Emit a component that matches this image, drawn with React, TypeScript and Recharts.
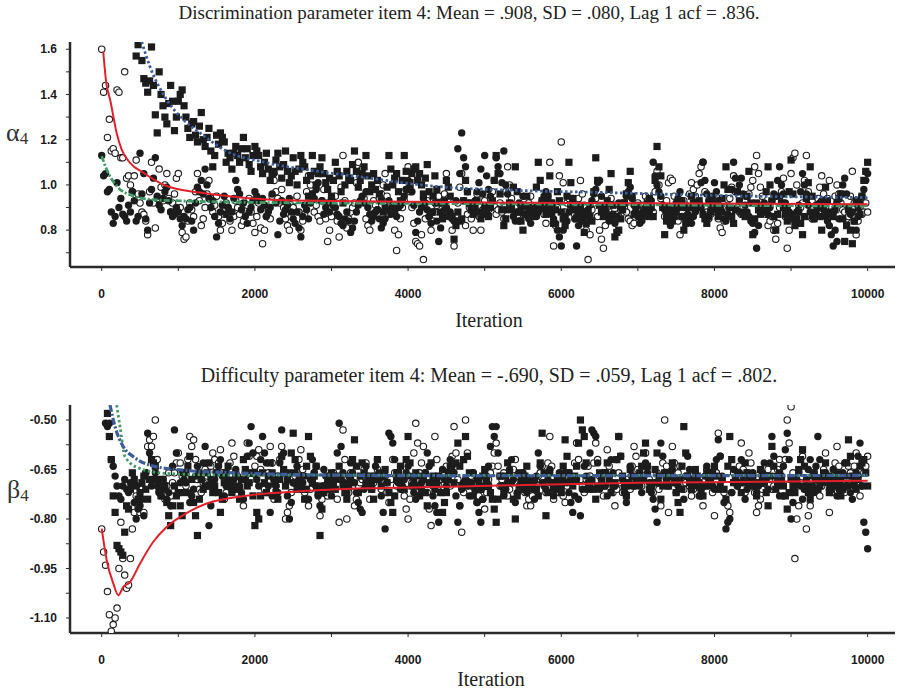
import React from 'react';
import { ComposedChart, Scatter, Line, XAxis, YAxis } from 'recharts';

// Sampling interval of the plotted draws: "main" draws sit at k*ITER_STEP, "mid" draws halfway between.
const ITER_STEP = 50;

const X_TICKS = [0, 1000, 2000, 3000, 4000, 5000, 6000, 7000, 8000, 9000, 10000];
const X_LABELED = [0, 2000, 4000, 6000, 8000, 10000];

const ALPHA_TICKS = [0.7, 0.8, 0.9, 1.0, 1.1, 1.2, 1.3, 1.4, 1.5, 1.6];
const ALPHA_LABELED = [0.8, 1.0, 1.2, 1.4, 1.6];
const BETA_TICKS = [-1.1, -1.025, -0.95, -0.875, -0.8, -0.725, -0.65, -0.575, -0.5];
const BETA_LABELED = [-1.1, -0.95, -0.8, -0.65, -0.5];

const ALPHA_TITLE = 'Discrimination parameter item 4: Mean = .908, SD = .080, Lag 1 acf = .836.';
const BETA_TITLE = 'Difficulty parameter item 4: Mean = -.690, SD = .059, Lag 1 acf = .802.';

// ---- alpha (discrimination), three chains ----
const alphaFilled = [
  1.13, 1.05, 0.98, 0.83, 1.01, 0.94, 0.86, 0.91, 0.97, 0.84, 1.14, 1.05, 0.80, 0.98, 1.12, 0.91, 0.94, 0.99, 0.88, 0.87,
  0.88, 0.82, 0.85, 0.90, 0.80, 0.99, 1.02, 1.07, 0.94, 0.93, 0.77, 0.88, 0.95, 0.90, 0.88, 1.02, 0.96, 0.92, 0.83, 0.90,
  0.97, 0.93, 0.94, 0.86, 0.90, 1.05, 0.78, 0.93, 0.89, 0.94, 0.85, 0.88, 0.77, 0.91, 0.85, 0.96, 0.98, 1.05, 0.87, 0.92,
  0.94, 0.90, 0.86, 0.82, 0.88, 0.79, 0.84, 0.91, 0.95, 0.97, 0.87, 0.86, 0.89, 0.81, 0.85, 0.93, 0.90, 0.86, 0.91, 0.95,
  1.02, 0.97, 0.79, 0.88, 0.94, 0.89, 0.83, 0.92, 0.75, 0.86, 0.90, 0.88, 0.84, 1.16, 1.23, 1.08, 0.92, 0.88, 0.97, 1.07,
  1.13, 0.98, 0.93, 1.12, 1.05, 1.15, 0.96, 0.89, 0.84, 0.92, 0.95, 0.87, 0.83, 0.90, 0.88, 0.93, 0.97, 0.89, 0.85, 0.80,
  0.73, 0.86, 0.88, 0.94, 0.73, 0.91, 0.86, 0.89, 0.93, 0.98, 1.02, 0.90, 0.87, 0.85, 0.83, 0.92, 0.89, 0.95, 0.99, 0.91,
  0.86, 0.84, 0.90, 0.88, 1.10, 1.00, 0.95, 0.89, 0.84, 0.86, 0.92, 0.97, 0.90, 0.87, 0.83, 0.88, 0.92, 1.10, 0.96, 0.91,
  1.01, 0.93, 0.88, 0.84, 0.90, 1.10, 0.97, 1.03, 0.91, 0.86, 0.83, 0.72, 0.89, 0.92, 0.87, 0.93, 0.95, 1.08, 0.96, 0.90,
  0.87, 0.84, 0.91, 1.05, 0.96, 0.88, 0.85, 0.90, 0.93, 0.86, 0.82, 0.73, 0.75, 0.96, 1.03, 0.90, 0.88, 0.80, 0.92, 0.98,
  1.05,
];
const alphaFilledMid = [
  1.04, 0.97, 0.88, 0.86, 0.90, 0.87, 0.84, 0.88, 0.93, 0.86, 0.96, 0.85, 0.92, 1.03, 0.95, 0.89, 0.97, 0.93, 0.86, 0.90,
  0.85, 0.86, 0.89, 0.84, 0.92, 0.97, 0.96, 1.00, 0.90, 0.86, 0.83, 0.91, 0.87, 0.85, 0.94, 0.98, 0.89, 0.86, 0.88, 0.93,
  0.95, 0.89, 0.91, 0.88, 0.96, 0.92, 0.84, 0.87, 0.91, 0.88, 0.83, 0.81, 0.86, 0.89, 0.92, 0.94, 1.01, 0.93, 0.90, 0.88,
  0.91, 0.87, 0.83, 0.85, 0.84, 0.81, 0.88, 0.93, 0.92, 0.90, 0.84, 0.88, 0.85, 0.83, 0.89, 0.87, 0.88, 0.90, 0.93, 0.98,
  0.99, 0.91, 0.84, 0.90, 0.92, 0.86, 0.88, 0.84, 0.81, 0.89, 0.86, 0.85, 0.93, 1.05, 1.12, 0.97, 0.90, 0.93, 1.01, 0.96,
  1.04, 0.95, 1.02, 1.08, 1.01, 1.00, 0.92, 0.86, 0.88, 0.90, 0.91, 0.85, 0.87, 0.86, 0.91, 0.95, 0.92, 0.87, 0.83, 0.77,
  0.80, 0.84, 0.91, 0.85, 0.82, 0.88, 0.87, 0.91, 0.96, 1.01, 0.95, 0.88, 0.84, 0.87, 0.86, 0.90, 0.92, 0.97, 0.94, 0.88,
  0.83, 0.87, 0.86, 0.93, 1.04, 0.97, 0.91, 0.86, 0.82, 0.89, 0.94, 0.93, 0.86, 0.84, 0.86, 0.90, 1.01, 1.02, 0.93, 0.95,
  0.97, 0.90, 0.85, 0.87, 0.98, 1.03, 1.00, 0.96, 0.88, 0.84, 0.79, 0.82, 0.91, 0.88, 0.90, 0.96, 1.02, 1.00, 0.92, 0.88,
  0.85, 0.88, 0.97, 1.00, 0.91, 0.86, 0.88, 0.92, 0.89, 0.84, 0.78, 0.80, 0.85, 1.00, 0.96, 0.87, 0.84, 0.86, 0.95, 1.02,
];
const alphaOpen = [
  1.60, 1.44, 1.29, 1.16, 1.42, 1.12, 1.50, 1.04, 0.97, 1.11, 0.92, 0.87, 0.78, 1.10, 0.81, 1.07, 0.93, 1.05, 0.88, 0.96,
  1.05, 0.79, 0.77, 0.92, 0.86, 1.05, 0.82, 0.90, 1.02, 0.88, 0.95, 0.80, 0.87, 0.90, 0.80, 0.93, 0.87, 0.84, 0.91, 0.88,
  0.79, 0.92, 0.74, 0.86, 0.85, 1.02, 0.94, 0.98, 0.85, 0.80, 0.90, 0.95, 0.80, 0.87, 1.04, 0.96, 0.91, 0.84, 0.98, 0.75,
  0.86, 0.95, 0.77, 1.13, 0.81, 0.88, 0.92, 1.10, 1.07, 0.85, 0.80, 0.93, 0.89, 0.96, 1.05, 0.87, 0.91, 0.71, 0.85, 0.93,
  1.08, 0.90, 0.75, 0.73, 0.67, 0.93, 0.80, 0.88, 0.95, 0.87, 1.05, 0.86, 0.73, 0.92, 1.05, 0.82, 0.90, 0.80, 0.96, 0.80,
  0.93, 0.89, 0.97, 0.87, 0.92, 0.85, 1.08, 0.94, 0.90, 0.84, 0.91, 0.88, 0.95, 0.86, 0.89, 0.92, 0.83, 1.10, 0.73, 0.90,
  1.19, 0.88, 0.94, 0.91, 0.86, 1.02, 0.91, 0.67, 0.89, 0.94, 0.80, 0.72, 0.90, 0.94, 0.89, 0.86, 0.92, 0.88, 0.84, 0.83,
  0.92, 0.87, 0.95, 0.90, 0.88, 1.06, 0.94, 0.86, 1.01, 1.02, 0.89, 0.78, 0.93, 0.90, 1.01, 0.95, 1.05, 1.10, 0.88, 0.87,
  0.92, 0.85, 0.79, 0.88, 0.94, 1.04, 0.90, 0.87, 0.93, 0.96, 1.02, 1.13, 0.99, 0.91, 0.82, 0.86, 0.76, 0.90, 1.03, 0.72,
  1.05, 1.14, 0.89, 0.92, 1.13, 0.86, 0.87, 0.94, 1.04, 0.90, 1.02, 0.88, 1.00, 0.92, 0.88, 0.86, 1.06, 0.78, 0.90, 0.88,
  0.88,
];
const alphaOpenMid = [
  1.41, 1.21, 1.15, 1.14, 1.41, 1.12, 1.03, 1.00, 1.04, 0.96, 0.88, 0.84, 0.97, 0.92, 0.94, 0.99, 1.00, 0.94, 0.92, 1.03,
  0.90, 0.76, 0.84, 0.89, 0.97, 0.93, 0.85, 0.96, 0.94, 0.91, 0.86, 0.83, 0.92, 0.84, 0.86, 0.90, 0.82, 0.89, 0.94, 0.83,
  0.86, 0.81, 0.80, 0.89, 0.95, 0.97, 0.92, 0.90, 0.82, 0.86, 0.93, 0.88, 0.84, 0.97, 1.00, 0.88, 0.86, 0.93, 0.85, 0.80,
  0.91, 0.84, 0.99, 0.93, 0.85, 0.90, 1.01, 1.05, 0.94, 0.82, 0.87, 0.91, 0.94, 1.00, 0.95, 0.89, 0.80, 0.78, 0.90, 0.98,
  0.97, 0.83, 0.74, 0.78, 0.85, 0.86, 0.84, 0.91, 0.92, 0.96, 0.94, 0.80, 0.84, 0.99, 0.93, 0.87, 0.85, 0.88, 0.86, 0.89,
  0.90, 0.94, 0.91, 0.89, 0.88, 0.97, 1.00, 0.91, 0.86, 0.88, 0.90, 0.92, 0.89, 0.87, 0.91, 0.87, 0.95, 0.92, 0.82, 1.04,
  1.01, 0.92, 0.90, 0.87, 0.94, 0.96, 0.80, 0.78, 0.92, 0.86, 0.76, 0.82, 0.93, 0.91, 0.87, 0.89, 0.90, 0.85, 0.82, 0.88,
  0.89, 0.91, 0.93, 0.86, 0.97, 1.00, 0.90, 0.93, 1.03, 0.95, 0.84, 0.86, 0.91, 0.96, 0.98, 1.00, 1.08, 0.97, 0.85, 0.90,
  0.88, 0.81, 0.84, 0.91, 0.99, 0.97, 0.88, 0.90, 0.95, 0.99, 1.08, 1.05, 0.95, 0.87, 0.84, 0.80, 0.83, 0.97, 0.86, 0.80,
  1.12, 1.00, 0.90, 1.02, 0.97, 0.85, 0.91, 0.99, 0.96, 0.94, 0.93, 0.95, 0.96, 0.89, 0.85, 0.95, 0.92, 0.84, 0.87, 0.92,
];
const alphaSquare = [
  2.40, 2.25, 2.10, 1.98, 1.90, 1.85, 1.80, 1.74, 1.70, 1.57, 1.67, 1.47, 1.41, 1.61, 1.31, 1.50, 1.35, 1.27, 1.44, 1.24,
  1.37, 1.42, 1.30, 1.21, 1.28, 1.19, 1.32, 1.17, 1.25, 1.08, 1.22, 1.23, 1.19, 1.14, 1.07, 1.17, 1.10, 1.21, 1.16, 1.06,
  1.17, 1.13, 1.05, 1.14, 1.02, 1.06, 1.14, 1.03, 1.15, 1.01, 1.12, 1.00, 1.13, 1.08, 0.95, 1.13, 1.00, 1.08, 1.05, 0.98,
  0.95, 1.10, 1.04, 0.92, 1.06, 1.02, 1.15, 0.99, 1.05, 1.13, 0.97, 1.05, 1.02, 0.93, 0.90, 1.13, 1.00, 1.05, 0.93, 1.13,
  0.98, 1.05, 1.08, 1.05, 0.96, 1.09, 0.88, 1.04, 0.92, 0.85, 1.02, 0.95, 0.76, 0.88, 0.85, 1.02, 0.92, 0.87, 0.93, 0.85,
  0.90, 0.86, 0.93, 1.13, 0.96, 0.82, 0.89, 0.91, 1.08, 0.88, 0.80, 0.95, 0.86, 0.90, 1.10, 0.93, 0.87, 1.04, 0.83, 0.97,
  0.88, 0.82, 1.10, 0.94, 0.85, 0.90, 0.79, 0.87, 0.84, 1.12, 0.91, 0.86, 0.93, 1.05, 0.77, 0.80, 0.89, 0.96, 1.06, 0.87,
  0.91, 0.85, 0.89, 0.94, 0.86, 1.17, 1.04, 0.78, 0.90, 0.84, 0.88, 0.92, 0.80, 0.85, 0.95, 0.89, 0.93, 0.87, 0.83, 0.88,
  0.92, 0.86, 0.94, 1.08, 0.90, 0.83, 0.97, 0.88, 0.86, 1.06, 0.78, 0.92, 0.87, 0.89, 1.08, 0.93, 0.80, 0.95, 0.90, 0.84,
  1.11, 0.82, 0.88, 0.78, 0.94, 1.08, 0.85, 0.91, 0.80, 0.99, 0.88, 0.86, 0.92, 0.96, 0.75, 0.89, 0.74, 0.93, 0.87, 1.02,
  1.10,
];
const alphaSquareMid = [
  2.32, 2.18, 2.04, 1.94, 1.88, 1.82, 1.77, 1.72, 1.66, 1.62, 1.55, 1.45, 1.46, 1.44, 1.23, 1.40, 1.30, 1.36, 1.37, 1.30,
  1.40, 1.35, 1.25, 1.27, 1.22, 1.26, 1.20, 1.21, 1.15, 1.13, 1.18, 1.21, 1.10, 1.12, 1.14, 1.13, 1.16, 1.12, 1.09, 1.13,
  1.15, 1.08, 1.10, 1.07, 1.05, 1.11, 1.08, 1.09, 1.06, 1.04, 1.06, 1.07, 1.10, 1.02, 1.04, 1.06, 1.05, 1.12, 1.01, 1.03,
  1.02, 1.06, 0.97, 1.00, 1.03, 1.09, 1.06, 1.02, 1.08, 1.04, 1.00, 0.98, 0.96, 0.88, 0.99, 1.07, 1.03, 0.97, 1.02, 1.06,
  1.01, 1.07, 1.02, 1.00, 1.03, 0.97, 0.95, 0.98, 0.88, 0.93, 0.99, 0.86, 0.82, 0.84, 0.93, 0.97, 0.89, 0.90, 0.88, 0.87,
  0.88, 0.90, 1.02, 1.05, 0.89, 0.85, 0.92, 0.99, 0.97, 0.84, 0.87, 0.90, 0.88, 0.99, 1.02, 0.90, 0.95, 0.92, 0.89, 0.93,
  0.85, 0.95, 1.01, 0.89, 0.87, 0.84, 0.83, 0.86, 0.97, 1.02, 0.88, 0.90, 0.98, 0.91, 0.79, 0.85, 0.92, 1.01, 0.95, 0.89,
  0.87, 0.88, 0.92, 0.90, 1.02, 1.08, 0.90, 0.84, 0.87, 0.86, 0.90, 0.86, 0.83, 0.90, 0.92, 0.91, 0.90, 0.85, 0.86, 0.91,
  0.89, 0.90, 1.00, 0.98, 0.86, 0.89, 0.93, 0.87, 0.95, 0.92, 0.85, 0.89, 0.88, 0.97, 1.00, 0.86, 0.87, 0.92, 0.87, 0.97,
  0.96, 0.85, 0.83, 0.86, 1.01, 0.95, 0.88, 0.86, 0.90, 0.93, 0.87, 0.89, 0.94, 0.85, 0.82, 0.80, 0.84, 0.90, 0.95, 1.06,
];

// running means, [iteration, value]
const alphaMeanOpen = [
  [20, 1.59], [60, 1.45], [110, 1.377], [195, 1.23], [261, 1.156], [370, 1.098], [543, 1.054], [848, 0.995],
  [1283, 0.966], [1718, 0.948], [2154, 0.936], [3024, 0.929], [4504, 0.924], [6000, 0.92], [8000, 0.918], [10000, 0.915],
];
const alphaMeanSquare = [
  [522, 1.633], [630, 1.523], [848, 1.377], [1066, 1.289], [1283, 1.23], [1631, 1.149], [2154, 1.098], [2807, 1.061],
  [3460, 1.032], [4112, 1.002], [4418, 0.992], [5500, 0.975], [6593, 0.966], [8333, 0.951], [10000, 0.944],
];
const alphaMeanFilled = [
  [0, 1.127], [65, 1.068], [196, 0.995], [413, 0.951], [630, 0.936], [1066, 0.929], [1718, 0.924], [3000, 0.92],
  [4500, 0.918], [6000, 0.915], [8000, 0.91], [10000, 0.907],
];

// ---- beta (difficulty), three chains ----
const betaFilled = [
  -0.30, -0.51, -0.51, -0.64, -0.70, -0.74, -0.68, -0.72, -0.70, -0.80, -0.76, -0.79, -0.54, -0.70, -0.66, -0.72, -0.69, -0.74, -0.76, -0.53,
  -0.72, -0.66, -0.69, -0.75, -0.71, -0.64, -0.68, -0.58, -0.82, -0.70, -0.66, -0.62, -0.73, -0.68, -0.71, -0.65, -0.70, -0.74, -0.61, -0.52,
  -0.66, -0.70, -0.55, -0.63, -0.78, -0.68, -0.72, -0.53, -0.66, -0.80, -0.69, -0.64, -0.71, -0.67, -0.74, -0.62, -0.70, -0.76, -0.65, -0.69,
  -0.73, -0.68, -0.51, -0.66, -0.72, -0.63, -0.69, -0.75, -0.78, -0.64, -0.70, -0.67, -0.62, -0.73, -0.83, -0.54, -0.57, -0.66, -0.71, -0.68,
  -0.64, -0.70, -0.74, -0.67, -0.72, -0.60, -0.69, -0.76, -0.81, -0.65, -0.70, -0.62, -0.66, -0.81, -0.71, -0.68, -0.73, -0.66, -0.75, -0.81,
  -0.70, -0.64, -0.52, -0.52, -0.67, -0.73, -0.69, -0.62, -0.75, -0.70, -0.66, -0.72, -0.68, -0.74, -0.60, -0.69, -0.71, -0.65, -0.73, -0.68,
  -0.70, -0.66, -0.72, -0.78, -0.68, -0.79, -0.64, -0.69, -0.53, -0.55, -0.71, -0.66, -0.73, -0.62, -0.70, -0.55, -0.68, -0.75, -0.64, -0.70,
  -0.67, -0.72, -0.63, -0.69, -0.74, -0.81, -0.57, -0.66, -0.70, -0.65, -0.72, -0.68, -0.74, -0.61, -0.69, -0.66, -0.73, -0.70, -0.64, -0.68,
  -0.71, -0.56, -0.67, -0.83, -0.80, -0.65, -0.70, -0.62, -0.74, -0.68, -0.66, -0.72, -0.69, -0.63, -0.71, -0.55, -0.67, -0.73, -0.64, -0.54,
  -0.80, -0.70, -0.66, -0.74, -0.68, -0.62, -0.72, -0.55, -0.69, -0.66, -0.71, -0.65, -0.73, -0.68, -0.63, -0.70, -0.74, -0.66, -0.57, -0.81,
  -0.89,
];
const betaFilledMid = [
  -0.42, -0.52, -0.62, -0.67, -0.73, -0.70, -0.71, -0.69, -0.75, -0.77, -0.74, -0.66, -0.60, -0.68, -0.70, -0.73, -0.71, -0.72, -0.64, -0.60,
  -0.69, -0.68, -0.72, -0.73, -0.67, -0.66, -0.63, -0.70, -0.76, -0.68, -0.64, -0.67, -0.70, -0.69, -0.68, -0.67, -0.72, -0.68, -0.57, -0.60,
  -0.68, -0.62, -0.60, -0.70, -0.73, -0.70, -0.63, -0.60, -0.73, -0.75, -0.66, -0.68, -0.69, -0.71, -0.68, -0.66, -0.73, -0.70, -0.67, -0.71,
  -0.70, -0.60, -0.58, -0.69, -0.67, -0.66, -0.72, -0.77, -0.71, -0.67, -0.69, -0.64, -0.68, -0.78, -0.69, -0.55, -0.62, -0.69, -0.70, -0.66,
  -0.67, -0.72, -0.70, -0.69, -0.66, -0.64, -0.73, -0.78, -0.72, -0.68, -0.66, -0.64, -0.73, -0.76, -0.69, -0.70, -0.69, -0.71, -0.78, -0.74,
  -0.67, -0.58, -0.55, -0.60, -0.70, -0.71, -0.65, -0.68, -0.72, -0.68, -0.69, -0.70, -0.71, -0.67, -0.64, -0.70, -0.68, -0.69, -0.70, -0.66,
  -0.68, -0.69, -0.75, -0.73, -0.74, -0.71, -0.67, -0.60, -0.54, -0.63, -0.68, -0.70, -0.67, -0.66, -0.62, -0.61, -0.72, -0.70, -0.67, -0.69,
  -0.70, -0.68, -0.66, -0.72, -0.77, -0.69, -0.61, -0.68, -0.67, -0.69, -0.70, -0.71, -0.67, -0.65, -0.68, -0.70, -0.71, -0.67, -0.66, -0.70,
  -0.62, -0.61, -0.75, -0.81, -0.72, -0.68, -0.66, -0.69, -0.71, -0.67, -0.69, -0.70, -0.66, -0.68, -0.63, -0.61, -0.70, -0.69, -0.59, -0.62,
  -0.75, -0.68, -0.70, -0.71, -0.65, -0.67, -0.64, -0.62, -0.68, -0.69, -0.68, -0.70, -0.71, -0.66, -0.67, -0.72, -0.70, -0.61, -0.70, -0.84,
];
const betaOpen = [
  -0.83, -0.94, -1.09, -1.12, -1.07, -0.81, -0.97, -1.00, -0.83, -0.73, -0.78, -0.78, -0.58, -0.58, -0.50, -0.72, -0.68, -0.70, -0.73, -0.66,
  -0.60, -0.67, -0.70, -0.55, -0.56, -0.68, -0.72, -0.65, -0.70, -0.60, -0.66, -0.59, -0.74, -0.69, -0.57, -0.66, -0.71, -0.76, -0.57, -0.68,
  -0.64, -0.59, -0.70, -0.72, -0.58, -0.74, -0.67, -0.58, -0.80, -0.76, -0.69, -0.66, -0.59, -0.72, -0.76, -0.68, -0.64, -0.79, -0.70, -0.73,
  -0.70, -0.67, -0.81, -0.53, -0.80, -0.66, -0.76, -0.72, -0.68, -0.63, -0.74, -0.69, -0.65, -0.71, -0.67, -0.75, -0.62, -0.70, -0.68, -0.73,
  -0.80, -0.69, -0.51, -0.66, -0.58, -0.72, -0.82, -0.55, -0.70, -0.66, -0.64, -0.70, -0.52, -0.68, -0.84, -0.50, -0.69, -0.66, -0.75, -0.71,
  -0.77, -0.68, -0.64, -0.57, -0.70, -0.66, -0.73, -0.69, -0.62, -0.71, -0.68, -0.76, -0.76, -0.70, -0.67, -0.64, -0.72, -0.55, -0.74, -0.69,
  -0.70, -0.75, -0.66, -0.69, -0.57, -0.68, -0.72, -0.64, -0.70, -0.57, -0.67, -0.73, -0.59, -0.69, -0.76, -0.66, -0.72, -0.68, -0.71, -0.58,
  -0.65, -0.70, -0.60, -0.68, -0.72, -0.66, -0.76, -0.50, -0.78, -0.58, -0.69, -0.64, -0.71, -0.67, -0.73, -0.68, -0.70, -0.76, -0.65, -0.66,
  -0.79, -0.54, -0.68, -0.75, -0.78, -0.66, -0.70, -0.57, -0.72, -0.60, -0.67, -0.78, -0.74, -0.69, -0.65, -0.71, -0.68, -0.62, -0.73, -0.50,
  -0.46, -0.92, -0.76, -0.61, -0.83, -0.76, -0.66, -0.71, -0.70, -0.60, -0.78, -0.67, -0.58, -0.70, -0.72, -0.64, -0.68, -0.60, -0.73, -0.66,
  -0.61,
];
const betaOpenMid = [
  -0.90, -1.02, -1.14, -1.10, -0.95, -0.92, -1.01, -0.92, -0.78, -0.76, -0.71, -0.66, -0.56, -0.55, -0.62, -0.70, -0.74, -0.66, -0.69, -0.63,
  -0.63, -0.69, -0.62, -0.58, -0.62, -0.71, -0.69, -0.67, -0.64, -0.62, -0.63, -0.66, -0.72, -0.63, -0.61, -0.69, -0.73, -0.66, -0.61, -0.66,
  -0.61, -0.65, -0.71, -0.66, -0.63, -0.70, -0.62, -0.66, -0.78, -0.72, -0.67, -0.62, -0.65, -0.74, -0.71, -0.66, -0.70, -0.74, -0.72, -0.69,
  -0.66, -0.74, -0.68, -0.62, -0.72, -0.70, -0.74, -0.69, -0.65, -0.68, -0.71, -0.67, -0.68, -0.69, -0.72, -0.68, -0.66, -0.69, -0.71, -0.77,
  -0.74, -0.60, -0.57, -0.63, -0.66, -0.77, -0.70, -0.62, -0.68, -0.65, -0.67, -0.61, -0.60, -0.76, -0.72, -0.60, -0.67, -0.70, -0.73, -0.74,
  -0.72, -0.66, -0.60, -0.64, -0.68, -0.70, -0.71, -0.65, -0.67, -0.69, -0.72, -0.74, -0.73, -0.68, -0.66, -0.69, -0.63, -0.64, -0.71, -0.72,
  -0.73, -0.70, -0.68, -0.63, -0.62, -0.70, -0.68, -0.67, -0.63, -0.62, -0.70, -0.66, -0.64, -0.72, -0.71, -0.69, -0.70, -0.69, -0.64, -0.61,
  -0.68, -0.65, -0.64, -0.70, -0.69, -0.71, -0.63, -0.64, -0.69, -0.63, -0.66, -0.68, -0.69, -0.70, -0.71, -0.69, -0.73, -0.70, -0.67, -0.72,
  -0.66, -0.61, -0.72, -0.76, -0.72, -0.68, -0.64, -0.65, -0.66, -0.63, -0.72, -0.76, -0.71, -0.67, -0.68, -0.70, -0.65, -0.67, -0.62, -0.57,
  -0.66, -0.80, -0.69, -0.71, -0.79, -0.70, -0.68, -0.73, -0.65, -0.69, -0.72, -0.63, -0.64, -0.71, -0.68, -0.66, -0.64, -0.67, -0.70, -0.64,
];
const betaSquare = [
  -0.20, -0.40, -0.55, -0.73, -0.88, -0.90, -0.84, -0.77, -0.66, -0.70, -0.72, -0.67, -0.74, -0.62, -0.64, -0.71, -0.68, -0.75, -0.82, -0.70,
  -0.72, -0.79, -0.66, -0.61, -0.75, -0.85, -0.68, -0.70, -0.63, -0.72, -0.66, -0.78, -0.69, -0.64, -0.72, -0.67, -0.74, -0.62, -0.70, -0.66,
  -0.82, -0.80, -0.66, -0.72, -0.63, -0.69, -0.74, -0.61, -0.70, -0.66, -0.54, -0.71, -0.67, -0.74, -0.55, -0.69, -0.64, -0.85, -0.72, -0.68,
  -0.66, -0.71, -0.64, -0.70, -0.74, -0.68, -0.56, -0.72, -0.63, -0.69, -0.67, -0.74, -0.62, -0.70, -0.65, -0.72, -0.78, -0.68, -0.64, -0.71,
  -0.55, -0.70, -0.66, -0.73, -0.68, -0.76, -0.63, -0.71, -0.67, -0.78, -0.72, -0.64, -0.69, -0.57, -0.70, -0.55, -0.66, -0.73, -0.68, -0.71,
  -0.65, -0.70, -0.74, -0.81, -0.67, -0.72, -0.63, -0.69, -0.80, -0.66, -0.71, -0.64, -0.70, -0.68, -0.73, -0.54, -0.79, -0.66, -0.71, -0.68,
  -0.72, -0.56, -0.66, -0.70, -0.64, -0.50, -0.55, -0.71, -0.68, -0.74, -0.66, -0.70, -0.63, -0.72, -0.69, -0.55, -0.67, -0.73, -0.65, -0.70,
  -0.68, -0.64, -0.57, -0.71, -0.69, -0.60, -0.74, -0.66, -0.70, -0.63, -0.72, -0.78, -0.52, -0.67, -0.71, -0.65, -0.69, -0.73, -0.66, -0.70,
  -0.64, -0.71, -0.68, -0.74, -0.55, -0.69, -0.66, -0.72, -0.63, -0.70, -0.67, -0.73, -0.65, -0.69, -0.76, -0.58, -0.71, -0.66, -0.70, -0.77,
  -0.68, -0.72, -0.65, -0.59, -0.70, -0.74, -0.66, -0.71, -0.68, -0.63, -0.72, -0.69, -0.66, -0.73, -0.70, -0.56, -0.67, -0.71, -0.64, -0.62,
  -0.70,
];
const betaSquareMid = [
  -0.30, -0.48, -0.62, -0.78, -0.89, -0.91, -0.76, -0.71, -0.68, -0.74, -0.69, -0.71, -0.68, -0.63, -0.68, -0.73, -0.70, -0.79, -0.76, -0.73,
  -0.76, -0.72, -0.64, -0.68, -0.79, -0.74, -0.71, -0.66, -0.68, -0.70, -0.72, -0.74, -0.66, -0.69, -0.70, -0.71, -0.68, -0.65, -0.69, -0.73,
  -0.78, -0.73, -0.69, -0.67, -0.66, -0.72, -0.68, -0.65, -0.68, -0.60, -0.62, -0.69, -0.71, -0.64, -0.61, -0.67, -0.72, -0.77, -0.70, -0.67,
  -0.69, -0.67, -0.68, -0.72, -0.70, -0.62, -0.64, -0.67, -0.66, -0.70, -0.71, -0.68, -0.66, -0.67, -0.69, -0.75, -0.73, -0.66, -0.68, -0.62,
  -0.63, -0.68, -0.70, -0.71, -0.72, -0.69, -0.67, -0.69, -0.72, -0.75, -0.68, -0.66, -0.63, -0.64, -0.62, -0.61, -0.70, -0.71, -0.69, -0.67,
  -0.68, -0.72, -0.77, -0.74, -0.70, -0.67, -0.66, -0.74, -0.73, -0.69, -0.67, -0.68, -0.69, -0.71, -0.63, -0.66, -0.72, -0.69, -0.70, -0.71,
  -0.64, -0.61, -0.68, -0.67, -0.57, -0.53, -0.63, -0.70, -0.71, -0.70, -0.68, -0.66, -0.68, -0.70, -0.62, -0.61, -0.70, -0.69, -0.67, -0.69,
  -0.66, -0.60, -0.64, -0.70, -0.65, -0.67, -0.70, -0.68, -0.66, -0.68, -0.75, -0.64, -0.60, -0.69, -0.68, -0.67, -0.71, -0.70, -0.68, -0.66,
  -0.67, -0.70, -0.71, -0.64, -0.62, -0.68, -0.69, -0.67, -0.66, -0.69, -0.70, -0.69, -0.67, -0.72, -0.67, -0.64, -0.69, -0.68, -0.73, -0.72,
  -0.70, -0.69, -0.62, -0.64, -0.72, -0.70, -0.68, -0.70, -0.66, -0.67, -0.71, -0.68, -0.69, -0.71, -0.63, -0.61, -0.69, -0.68, -0.63, -0.66,
];

const betaMeanOpen = [
  [0, -0.829], [65, -0.925], [152, -0.996], [217, -1.031], [282, -1.006], [370, -0.991], [500, -0.935], [674, -0.869],
  [848, -0.824], [1066, -0.788], [1370, -0.753], [1936, -0.728], [2590, -0.716], [3460, -0.707], [4547, -0.702],
  [7028, -0.69], [10000, -0.684],
];
const betaMeanSquare = [
  [108, -0.4545], [174, -0.52], [282, -0.581], [413, -0.611], [630, -0.637], [1066, -0.652], [1718, -0.66],
  [3024, -0.667], [4500, -0.669], [10000, -0.668],
];
const betaMeanFilled = [
  [196, -0.4545], [239, -0.52], [304, -0.611], [500, -0.647], [848, -0.662], [1700, -0.667], [10000, -0.668],
];

const INK = '#1c1c1c';
const RED = '#e3202a';
const BLUE = '#3d5c99';
const GREEN = '#3f9a68';

const chainPoints = (main: number[], mid: number[]) => {
  const pts: { x: number; y: number }[] = [];
  main.forEach((v, i) => {
    pts.push({ x: i * ITER_STEP, y: v });
    if (i < mid.length) pts.push({ x: (i + 0.5) * ITER_STEP, y: mid[i] });
  });
  return pts;
};
const meanPoints = (pairs: number[][]) => pairs.map(([x, y]) => ({ x, y }));

const FilledDot = (p: any) => <circle cx={p.cx} cy={p.cy} r={3.7} fill={INK} />;
const OpenDot = (p: any) => <circle cx={p.cx} cy={p.cy} r={3.2} fill="#ffffff" stroke={INK} strokeWidth={1.1} />;
const SquareMark = (p: any) => <rect x={p.cx - 3.6} y={p.cy - 3.6} width={7.2} height={7.2} fill={INK} />;

const tickFont = { fontFamily: '"Liberation Sans", Arial, sans-serif', fontWeight: 700, fontSize: 12, fill: '#1a1a1a' };
const axisLineStyle = { stroke: '#2a2a2a', strokeWidth: 2.5 };

const near = (v: number, list: number[]) => list.some((t) => Math.abs(t - v) < 1e-6);

type PanelProps = {
  top: number;
  height: number;
  marginTop: number;
  marginBottom: number;
  domain: [number, number];
  ticks: number[];
  labeled: number[];
  digits: number;
  filled: { x: number; y: number }[];
  open: { x: number; y: number }[];
  squares: { x: number; y: number }[];
  meanOpen: number[][];
  meanSquare: number[][];
  meanFilled: number[][];
  squareDash: string;
  filledDash: string;
  squareWidth: number;
  filledWidth: number;
};

function Panel(props: PanelProps) {
  return (
    <div style={{ position: 'absolute', left: 0, top: props.top }}>
      <ComposedChart
        width={897}
        height={props.height}
        margin={{ top: props.marginTop, right: 2, bottom: props.marginBottom, left: 0 }}
      >
        <XAxis
          type="number"
          dataKey="x"
          domain={[-414, 10357]}
          allowDataOverflow
          ticks={X_TICKS}
          interval={0}
          tickFormatter={(v: number) => (near(v, X_LABELED) ? String(v) : '')}
          axisLine={axisLineStyle}
          tickLine={{ stroke: '#2a2a2a', strokeWidth: 1 }}
          tickSize={4}
          tickMargin={18}
          tick={tickFont}
          height={30}
        />
        <YAxis
          type="number"
          dataKey="y"
          domain={props.domain}
          allowDataOverflow
          ticks={props.ticks}
          interval={0}
          tickFormatter={(v: number) => (near(v, props.labeled) ? v.toFixed(props.digits) : '')}
          axisLine={axisLineStyle}
          tickLine={{ stroke: '#2a2a2a', strokeWidth: 1 }}
          tickSize={4}
          tickMargin={9}
          tick={tickFont}
          width={70}
        />
        <Scatter data={props.open} shape={OpenDot} isAnimationActive={false} />
        <Scatter data={props.filled} shape={FilledDot} isAnimationActive={false} />
        <Scatter data={props.squares} shape={SquareMark} isAnimationActive={false} />
        <Line
          data={meanPoints(props.meanFilled)}
          dataKey="y"
          type="monotone"
          stroke={GREEN}
          strokeWidth={props.filledWidth}
          strokeDasharray={props.filledDash}
          dot={false}
          isAnimationActive={false}
          zIndex={900}
        />
        <Line
          data={meanPoints(props.meanSquare)}
          dataKey="y"
          type="monotone"
          stroke={BLUE}
          strokeWidth={props.squareWidth}
          strokeDasharray={props.squareDash}
          dot={false}
          isAnimationActive={false}
          zIndex={900}
        />
        <Line
          data={meanPoints(props.meanOpen)}
          dataKey="y"
          type="monotone"
          stroke={RED}
          strokeWidth={2}
          dot={false}
          isAnimationActive={false}
          zIndex={900}
        />
      </ComposedChart>
    </div>
  );
}

const serif = '"Liberation Serif", "Times New Roman", serif';

function Txt({ x, y, size, children }: { x: number; y: number; size: number; children: React.ReactNode }) {
  return (
    <div
      style={{
        position: 'absolute',
        left: x,
        top: y - size * 0.6,
        transform: 'translateX(-50%)',
        whiteSpace: 'nowrap',
        fontFamily: serif,
        fontSize: size,
        lineHeight: `${size * 1.2}px`,
        color: '#222',
      }}
    >
      {children}
    </div>
  );
}

function GreekLabel({ x, y, letter }: { x: number; y: number; letter: string }) {
  return (
    <div
      style={{
        position: 'absolute',
        left: x,
        top: y - 16,
        fontFamily: serif,
        fontSize: 26,
        lineHeight: '32px',
        color: '#333',
        whiteSpace: 'nowrap',
      }}
    >
      {letter}
      <span style={{ fontSize: 17, position: 'relative', top: 3 }}>4</span>
    </div>
  );
}

export default function App() {
  return (
    <div
      style={{
        position: 'absolute',
        left: 0,
        top: 0,
        width: 897,
        height: 690,
        background: '#ffffff',
        overflow: 'hidden',
      }}
    >
      <Panel
        top={0}
        height={340}
        marginTop={42}
        marginBottom={43}
        domain={[0.637, 1.632]}
        ticks={ALPHA_TICKS}
        labeled={ALPHA_LABELED}
        digits={1}
        filled={chainPoints(alphaFilled, alphaFilledMid)}
        open={chainPoints(alphaOpen, alphaOpenMid)}
        squares={chainPoints(alphaSquare, alphaSquareMid)}
        meanOpen={alphaMeanOpen}
        meanSquare={alphaMeanSquare}
        meanFilled={alphaMeanFilled}
        squareDash="2.5 2.5"
        filledDash="6 2 2 2"
        squareWidth={2.8}
        filledWidth={2.8}
      />
      <Panel
        top={360}
        height={330}
        marginTop={45}
        marginBottom={27}
        domain={[-1.1455, -0.4545]}
        ticks={BETA_TICKS}
        labeled={BETA_LABELED}
        digits={2}
        filled={chainPoints(betaFilled, betaFilledMid)}
        open={chainPoints(betaOpen, betaOpenMid)}
        squares={chainPoints(betaSquare, betaSquareMid)}
        meanOpen={betaMeanOpen}
        meanSquare={betaMeanSquare}
        meanFilled={betaMeanFilled}
        squareDash="7 2 2 2"
        filledDash="2.5 2.5"
        squareWidth={3.2}
        filledWidth={2.8}
      />
      <Txt x={469} y={13} size={19}>{ALPHA_TITLE}</Txt>
      <Txt x={489} y={320} size={20}>Iteration</Txt>
      <Txt x={489} y={375} size={20}>{BETA_TITLE}</Txt>
      <Txt x={491} y={679} size={20}>Iteration</Txt>
      <GreekLabel x={6} y={133} letter="α" />
      <GreekLabel x={7} y={490} letter="β" />
    </div>
  );
}
